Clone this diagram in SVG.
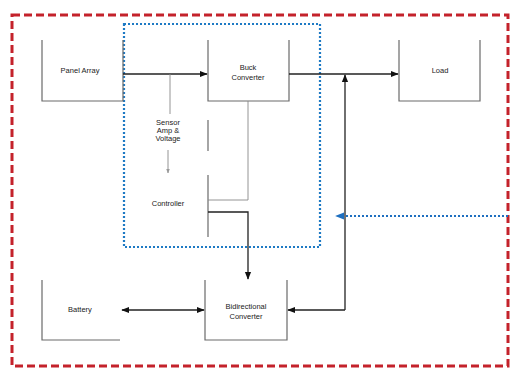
<svg xmlns="http://www.w3.org/2000/svg" width="511" height="370" viewBox="0 0 511 370">
<defs>
<style>
.box{fill:none;stroke:#6a6a6a;stroke-width:1.2}
.ln{fill:none;stroke:#222;stroke-width:1.3}
.thin{fill:none;stroke:#888;stroke-width:0.9}
.t{font-family:"Liberation Sans",Arial,sans-serif;font-size:7.5px;fill:#222;text-anchor:middle}
</style>
<marker id="ah" viewBox="0 0 10 10" refX="9" refY="5" markerWidth="6" markerHeight="6" orient="auto-start-reverse"><path d="M0,1 L10,5 L0,9 z" fill="#111"/></marker>
<marker id="ahg" viewBox="0 0 10 10" refX="9" refY="5" markerWidth="5" markerHeight="5" orient="auto"><path d="M0,1 L10,5 L0,9 z" fill="#999"/></marker>
<marker id="ahb" viewBox="0 0 10 10" refX="9" refY="5" markerWidth="4.5" markerHeight="4.5" orient="auto"><path d="M0,1 L10,5 L0,9 z" fill="#1e6fc0"/></marker>
</defs>
<rect width="511" height="370" fill="#fff"/>
<rect x="12" y="15" width="496" height="351" fill="none" stroke="#c4222b" stroke-width="3" stroke-dasharray="8,4"/>
<rect x="124" y="24" width="196" height="223" fill="none" stroke="#1e7ac4" stroke-width="2.2" stroke-dasharray="2,2"/>
<g id="panel-array"><path class="box" d="M42,40 V101 H123 V40"/><text class="t" x="80" y="73">Panel Array</text></g>
<g id="buck-converter"><path class="box" d="M208,40 V101 H289 V40"/><text class="t" x="248" y="70">Buck</text><text class="t" x="248" y="80">Converter</text></g>
<g id="load"><path class="box" d="M399,40 V101 H480 V40"/><text class="t" x="440" y="73">Load</text></g>
<g id="sensor"><path class="box" d="M208,120 V151"/><text class="t" x="168" y="125">Sensor</text><text class="t" x="168" y="133">Amp &amp;</text><text class="t" x="168" y="141">Voltage</text></g>
<g id="controller"><path class="box" d="M208,175 V237"/><text class="t" x="168" y="206">Controller</text></g>
<g id="battery"><path class="box" d="M42,280 V340 H120"/><text class="t" x="80" y="312">Battery</text></g>
<g id="bidirectional-converter"><path class="box" d="M205,280 V340 H287 V280"/><text class="t" x="246" y="309">Bidirectional</text><text class="t" x="246" y="319">Converter</text></g>
<g id="connectors">
<path class="ln" d="M123,74 H207" marker-end="url(#ah)"/>
<path class="ln" d="M289,74 H398" marker-end="url(#ah)"/>
<path class="ln" d="M345,310 V75" marker-end="url(#ah)"/>
<path class="ln" d="M345,310 H288" marker-end="url(#ah)"/>
<path class="ln" d="M122,310 H204" marker-start="url(#ah)" marker-end="url(#ah)"/>
<path class="thin" d="M170,74 V114"/>
<path class="thin" d="M168,150 V173" marker-end="url(#ahg)"/>
<path class="thin" d="M248,101 V200 H208" stroke="#666"/>
<path class="ln" d="M208,212 H248 V279" marker-end="url(#ah)"/>
<path d="M508,216 H336" fill="none" stroke="#1e6fc0" stroke-width="2" stroke-dasharray="2,2" marker-end="url(#ahb)"/>
</g>
</svg>
